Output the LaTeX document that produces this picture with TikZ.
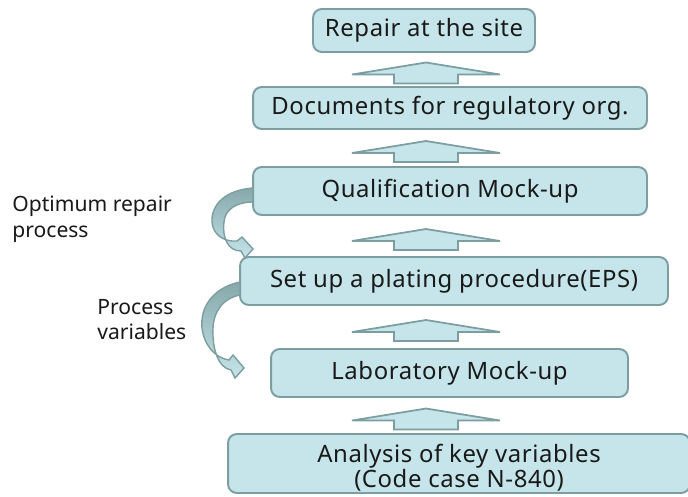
\documentclass[tikz,border=0pt]{standalone}
\usepackage{fontspec}
\setmainfont{Noto Sans}
\newfontfamily\stepfont[LetterSpace=2.5]{Noto Sans}
\usetikzlibrary{calc}
\definecolor{boxfill}{RGB}{198,229,234}
\definecolor{boxline}{RGB}{124,158,161}
\definecolor{curvedark}{RGB}{134,168,171}

\begin{document}
\begin{tikzpicture}[x=0.02cm,y=-0.02cm,
stepbox/.style={draw=boxline,fill=boxfill,rounded corners=5pt,line width=1.1pt,inner sep=0pt,font=\stepfont\fontsize{13.6}{14.4}\selectfont,text=black!90},
blockarrow/.style={draw=boxline,fill=boxfill,line width=1pt,line join=miter},
curvearrow/.style={draw=boxline,top color=curvedark,bottom color=boxfill,line width=0.8pt},
sidelabel/.style={align=left,inner sep=0pt,anchor=north west,font=\fontsize{12}{14.4}\selectfont,text=black!90}]

\useasboundingbox (0,0) rectangle (688,496);

% steps, from the site down to the analysis
\node[stepbox,minimum width=4.44cm,minimum height=0.86cm] (b1) at (424,30.5) {Repair at the site};
\node[stepbox,minimum width=7.88cm,minimum height=0.84cm] (b2) at (450,108) {Documents for regulatory org.};
\node[stepbox,minimum width=7.88cm,minimum height=0.96cm] (b3) at (450,191) {Qualification Mock-up};
\node[stepbox,minimum width=8.56cm,minimum height=0.96cm] (b4) at (454,281) {Set up a plating procedure(EPS)};
\node[stepbox,minimum width=7.14cm,minimum height=0.96cm] (b5) at (449.5,373) {Laboratory Mock-up};
\node[stepbox,minimum width=9.24cm,minimum height=1.18cm,align=center] (b6) at (459,463.5)
  {\rule{0pt}{15pt}Analysis of key variables\\(Code case N-840)};

% flat block arrows between the steps
\foreach \lo/\hi in {b2/b1,b3/b2,b4/b3,b5/b4,b6/b5} {
  \coordinate (m) at ($(b1.center |- \hi.south)!0.5!(b1.center |- \lo.north)+(2,4)$);
  \filldraw[blockarrow] (m) ++(-32,10) -- ++(0,-9) -- ++(-42,0) -- ++(74,-12)
    -- ++(74,12) -- ++(-42,0) -- ++(0,9) -- cycle;
}

% curved arrows on the left
\path[curvearrow] (253,188) .. controls (225,190) and (211,205) .. (212,222)
  .. controls (213,235) and (224,242) .. (237,241) -- (242,237) -- (253,249)
  -- (245,258) -- (241,251) .. controls (228,251) and (222,238) .. (224,222)
  .. controls (225,209) and (237,202) .. (253,202) -- cycle;
\path[curvearrow] (240,282) .. controls (212,288) and (200,308) .. (202,328)
  .. controls (204,345) and (215,358) .. (229,360) -- (233,355) -- (244,368)
  -- (235,378) -- (231,370) .. controls (218,368) and (212,348) .. (213,328)
  .. controls (214,310) and (224,298) .. (240,295) -- cycle;

\node[sidelabel] (opt) at (12,196) {Optimum repair\\process};
\node[sidelabel] (var) at (97,299) {Process\\variables};

\end{tikzpicture}
\end{document}
